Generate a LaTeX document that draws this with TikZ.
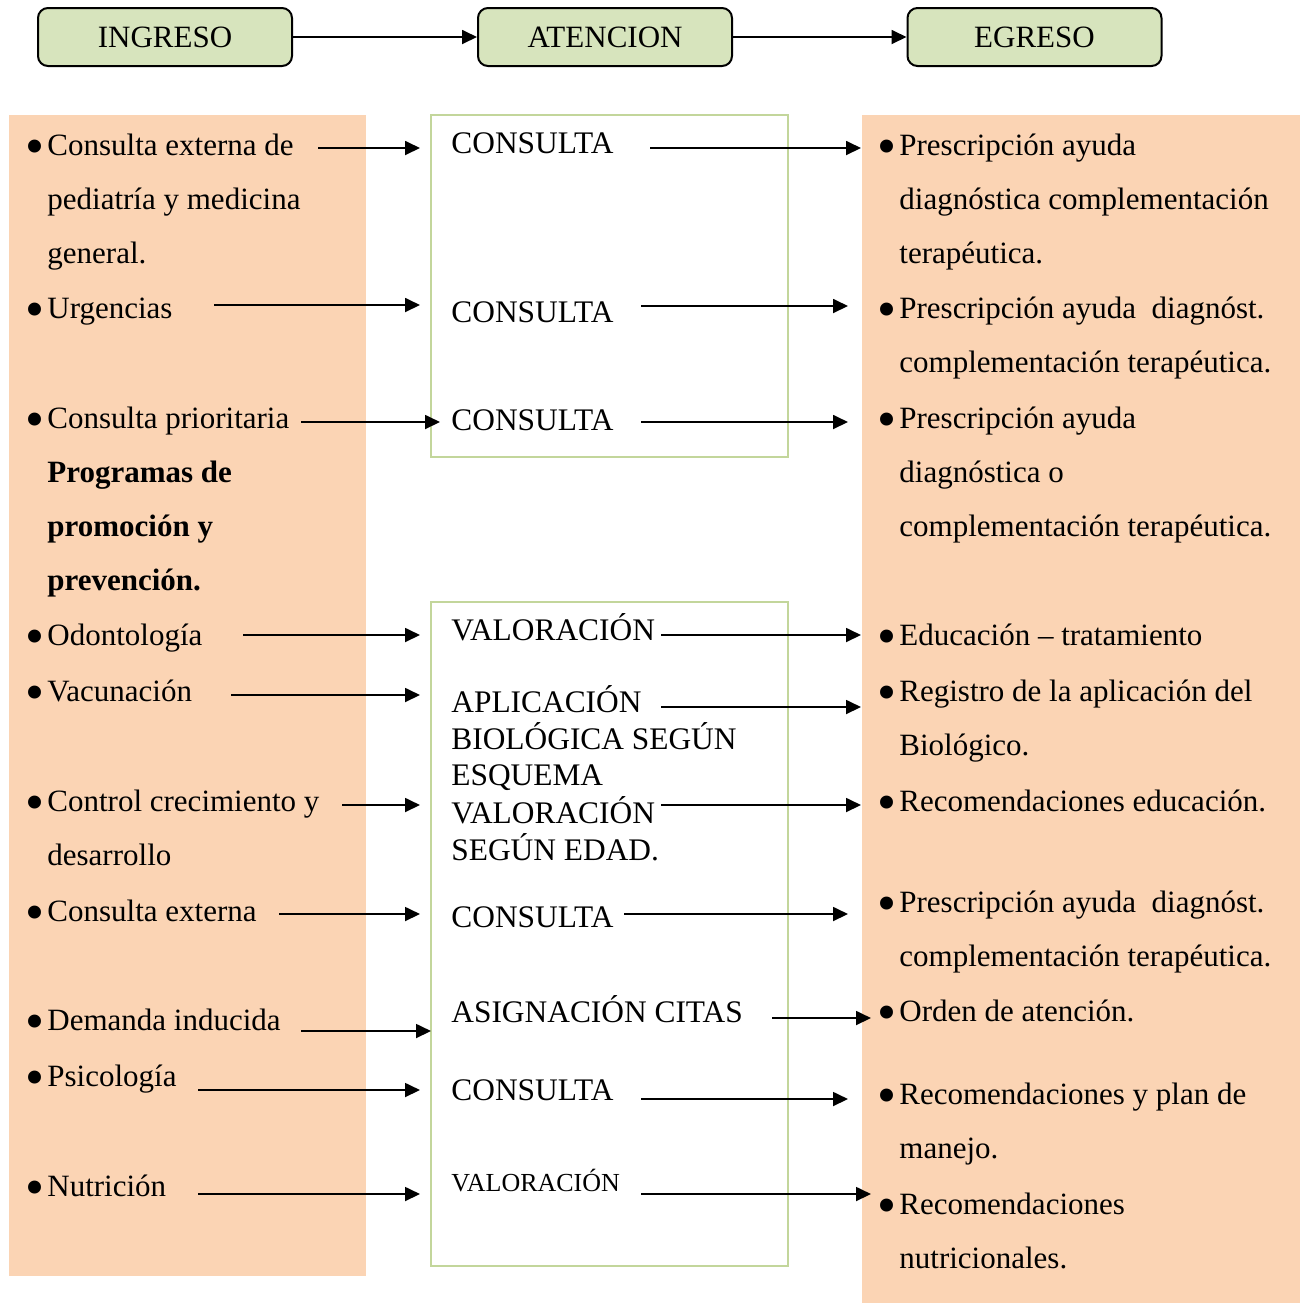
\documentclass[tikz,border=0pt]{standalone}
\usepackage{fontspec}
\usepackage{graphicx}
\setmainfont{Liberation Serif}
\usetikzlibrary{arrows.meta}
\definecolor{peach}{HTML}{FBD4B4}
\definecolor{lgreen}{HTML}{D7E4BD}
\definecolor{ggreen}{HTML}{C3D69B}
\newcommand{\bul}{\llap{\raisebox{-4.6pt}{\scalebox{1.75}{\textbullet}}\hspace{1.5pt}}}
\newcommand{\rows}[1]{\begin{tabular}[t]{@{}l@{}}#1\end{tabular}}
\begin{document}
\begin{tikzpicture}[x=0.5pt,y=-0.5pt,
  hdr/.style={draw=black, line width=1pt, rounded corners=5pt, fill=lgreen,
    minimum width=127pt, minimum height=29pt, inner sep=0pt,
    font=\fontsize{15.5}{18}\selectfont},
  txt/.style={anchor=base west, inner sep=0pt, font=\fontsize{15.5}{27}\selectfont},
  mid/.style={anchor=base west, inner sep=0pt, font=\fontsize{15.7}{17.85}\selectfont},
  arr/.style={line width=0.9pt, -{Triangle[length=7.5pt,width=7pt]}},
  gbox/.style={draw=ggreen, line width=1pt}]
\useasboundingbox (0,0) rectangle (1306,1303);

% panels
\fill[peach] (9,115) rectangle (366,1276);
\fill[peach] (862,115) rectangle (1300,1303);
\draw[gbox] (431,115) rectangle (788,457);
\draw[gbox] (431,602) rectangle (788,1266);

% header
\node[hdr] (ing) at (165,37) {INGRESO};
\node[hdr] (ate) at (605,37) {ATENCION};
\node[hdr] (egr) at (1034.5,37) {EGRESO};
\draw[arr] (ing) -- (ate);
\draw[arr] (ate) -- (egr);

% left column
\node[txt] (l1) at (47,155) {\rows{\bul Consulta externa de\\ pediatría y medicina\\ general.}};
\node[txt] (l2) at (47,318) {\rows{\bul Urgencias}};
\node[txt] (l3) at (47,428) {\rows{\bul Consulta prioritaria\\ \textbf{Programas de}\\ \textbf{promoción y}\\ \textbf{prevención.}}};
\node[txt] (l4) at (47,645) {\rows{\bul Odontología}};
\node[txt] (l5) at (47,701) {\rows{\bul Vacunación}};
\node[txt] (l6) at (47,811) {\rows{\bul Control crecimiento y\\ desarrollo}};
\node[txt] (l7) at (47,921) {\rows{\bul Consulta externa}};
\node[txt] (l8) at (47,1030) {\rows{\bul Demanda inducida}};
\node[txt] (l9) at (47,1086) {\rows{\bul Psicología}};
\node[txt] (l10) at (47,1196) {\rows{\bul Nutrición}};

% middle column
\node[mid] (m1) at (451,153) {CONSULTA};
\node[mid] (m2) at (451,322) {CONSULTA};
\node[mid] (m3) at (451,430) {CONSULTA};
\node[mid] (m4) at (451,640) {VALORACIÓN};
\node[mid] (m5) at (451,712) {\rows{APLICACIÓN\\ BIOLÓGICA SEGÚN\\ ESQUEMA\\ VALORACIÓN\\ SEGÚN EDAD.}};
\node[mid] (m7) at (451,927) {CONSULTA};
\node[mid] (m8) at (451,1022) {ASIGNACIÓN CITAS};
\node[mid] (m9) at (451,1100) {CONSULTA};
\node[mid, font=\fontsize{13}{15}\selectfont] (m10) at (451,1191) {VALORACIÓN};

% right column
\node[txt] (r1) at (899,155) {\rows{\bul Prescripción ayuda\\ diagnóstica complementación\\ terapéutica.}};
\node[txt] (r2) at (899,318) {\rows{\bul Prescripción ayuda~ diagnóst.\\ complementación terapéutica.}};
\node[txt] (r3) at (899,428) {\rows{\bul Prescripción ayuda\\ diagnóstica o\\ complementación terapéutica.}};
\node[txt] (r4) at (899,645) {\rows{\bul Educación – tratamiento}};
\node[txt] (r5) at (899,701) {\rows{\bul Registro de la aplicación del\\ Biológico.}};
\node[txt] (r6) at (899,811) {\rows{\bul Recomendaciones educación.}};
\node[txt] (r7) at (899,912) {\rows{\bul Prescripción ayuda~ diagnóst.\\ complementación terapéutica.}};
\node[txt] (r8) at (899,1021) {\rows{\bul Orden de atención.}};
\node[txt] (r9) at (899,1104) {\rows{\bul Recomendaciones y plan de\\ manejo.}};
\node[txt] (r10) at (899,1214) {\rows{\bul Recomendaciones\\ nutricionales.}};

% left arrows
\foreach \i/\a/\b/\y in {1/318/420/148, 2/214/420/305, 3/301/440/422, 4/243/420/635,
  5/231/420/695, 6/342/420/805, 7/279/420/914, 8/301/431/1031, 9/198/420/1090, 10/198/420/1194}{
  \coordinate (la\i) at (\a,\y);
  \coordinate (lb\i) at (\b,\y);
  \draw[arr] (la\i) -- (lb\i);
}
% right arrows
\foreach \i/\a/\b/\y in {1/650/861/148, 2/641/848/306, 3/641/848/422, 4/661/861/635,
  5/661/861/707, 6/661/861/805, 7/624/848/914, 8/772/871/1018, 9/641/848/1099, 10/641/871/1194}{
  \coordinate (ra\i) at (\a,\y);
  \coordinate (rb\i) at (\b,\y);
  \draw[arr] (ra\i) -- (rb\i);
}
\end{tikzpicture}
\end{document}
